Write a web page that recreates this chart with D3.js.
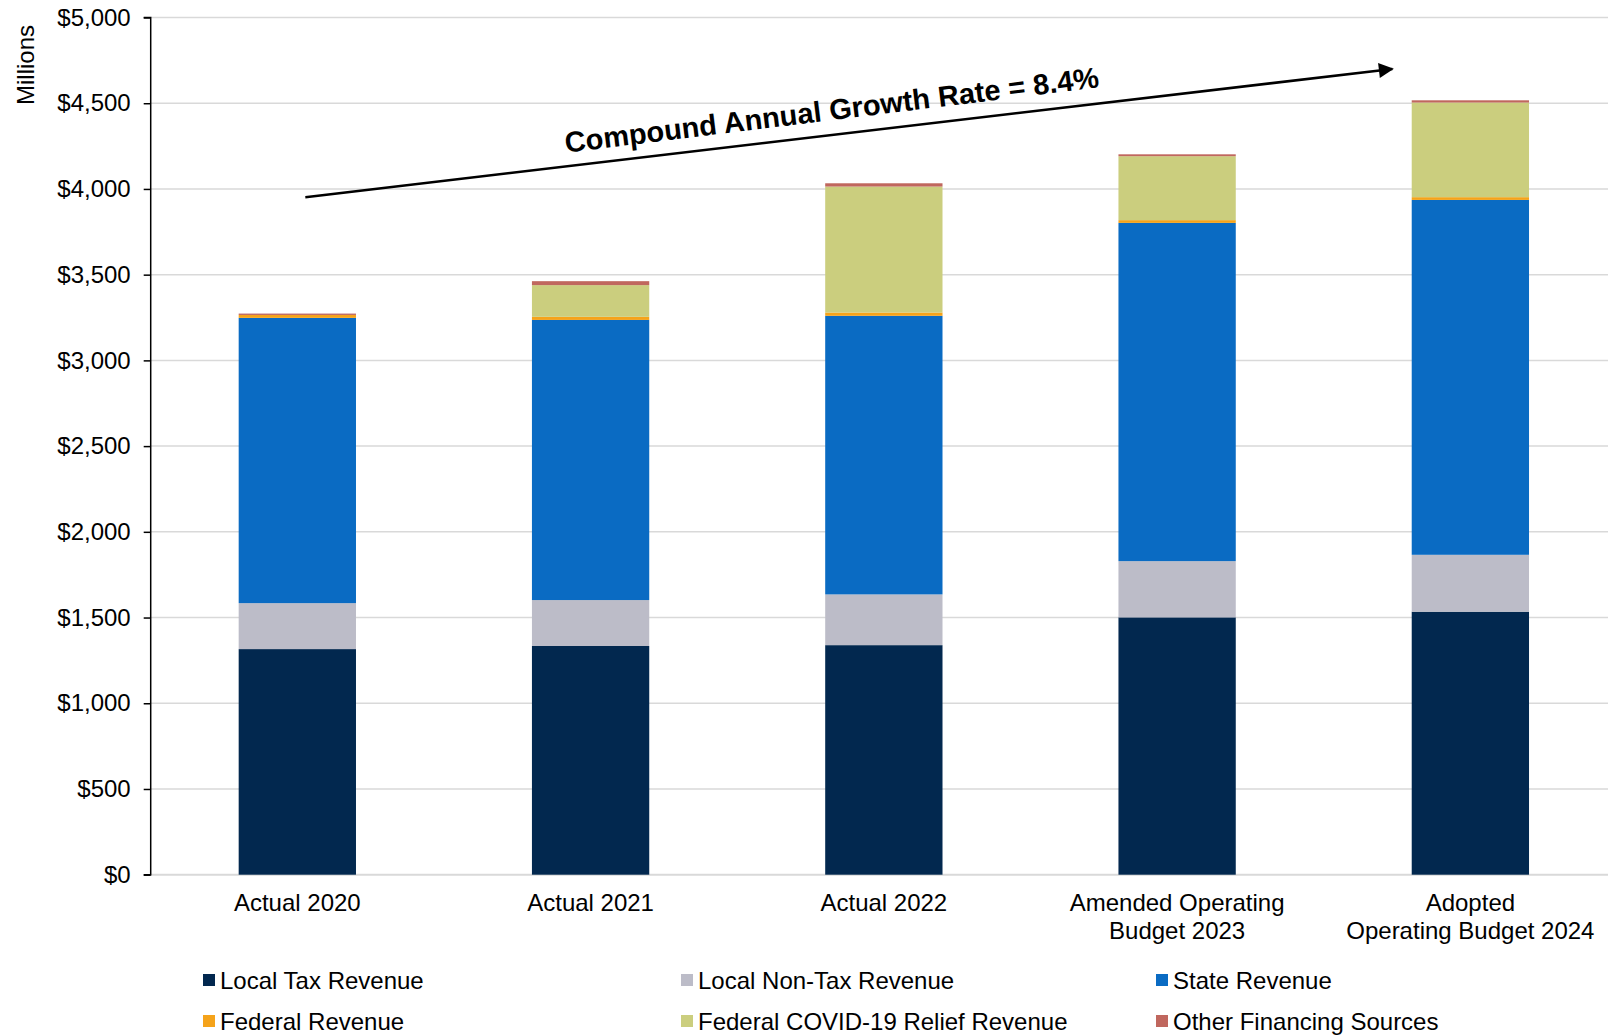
<!DOCTYPE html>
<html>
<head>
<meta charset="utf-8">
<script src="https://cdn.jsdelivr.net/npm/d3@7"></script>
<style>
  body { margin: 0; background: #fff; }
  svg text { font-family: "Liberation Sans", Arial, sans-serif; fill: #000; }
</style>
</head>
<body>
<div id="chart"></div>
<script>
const width = 1608
const height = 1035
// plot area runs a little past the right edge, like the original
const margin = { top: 17.5, right: -9, bottom: 160.3, left: 150.7 }

// data ($ millions)
const categories = ['Actual 2020', 'Actual 2021', 'Actual 2022', 'Amended Operating Budget 2023', 'Adopted Operating Budget 2024']
const categoryLines = [['Actual 2020'], ['Actual 2021'], ['Actual 2022'], ['Amended Operating', 'Budget 2023'], ['Adopted', 'Operating Budget 2024']]
const seriesNames = ['Local Tax Revenue', 'Local Non-Tax Revenue', 'State Revenue', 'Federal Revenue', 'Federal COVID-19 Relief Revenue', 'Other Financing Sources']
const seriesColors = ['#02284f', '#bcbcc8', '#0a6bc3', '#f5a31a', '#cbce7e', '#c0675e']
const localTax = [1316, 1334, 1339, 1501, 1534]
const localNonTax = [268, 268, 296, 328, 332]
const stateRevenue = [1664, 1634, 1625, 1973, 2070]
const federalRevenue = [17, 18, 19, 16, 16]
const covidRelief = [0, 185, 735, 373, 552]
const otherFinancing = [8, 23, 19, 11, 13]
const yTicks = [0, 500, 1000, 1500, 2000, 2500, 3000, 3500, 4000, 4500, 5000]
const annotation = 'Compound Annual Growth Rate = 8.4%'

const seriesValues = [localTax, localNonTax, stateRevenue, federalRevenue, covidRelief, otherFinancing]
const table = categories.map((c, i) => {
    const row = { category: c }
    seriesNames.forEach((s, j) => { row[s] = seriesValues[j][i] })
    return row
})
const stacked = d3.stack().keys(seriesNames)(table)

const svg = d3.select('#chart')
    .append('svg')
    .attr('width', width)
    .attr('height', height)

const xScale = d3.scaleBand()
    .domain(categories)
    .range([margin.left, width - margin.right])
    .paddingInner(0.6)
    .paddingOuter(0.3)

const yScale = d3.scaleLinear()
    .domain([0, 5000])
    .range([height - margin.bottom, margin.top])

// gridlines
svg.append('g')
    .selectAll('line')
    .data(yTicks)
    .enter()
    .append('line')
    .attr('x1', margin.left)
    .attr('x2', width)
    .attr('y1', d => yScale(d))
    .attr('y2', d => yScale(d))
    .attr('stroke', '#d9d9d9')
    .attr('stroke-width', d => d === 0 ? 2 : 1.5)

// bars
svg.append('g')
    .selectAll('g')
    .data(stacked)
    .enter()
    .append('g')
    .attr('fill', (d, i) => seriesColors[i])
    .selectAll('rect')
    .data(d => d)
    .enter()
    .append('rect')
    .attr('x', d => xScale(d.data.category))
    .attr('width', xScale.bandwidth())
    .attr('y', d => yScale(d[1]))
    .attr('height', d => yScale(d[0]) - yScale(d[1]))

// y axis
const yAxis = d3.axisLeft(yScale)
    .tickValues(yTicks)
    .tickSize(7)
    .tickPadding(13)
    .tickFormat(d => '$' + d3.format(',')(d))
const yAxisG = svg.append('g')
    .attr('transform', `translate(${margin.left}, 0)`)
    .call(yAxis)
yAxisG.select('.domain').attr('stroke', '#000').attr('stroke-width', 1.5).attr('d', `M-7,${yScale(5000)}H0V${yScale(0)}H-7`)
yAxisG.selectAll('.tick line').attr('stroke', '#000').attr('stroke-width', 1.5)
yAxisG.selectAll('.tick text')
    .style('font-size', '24px')
    .style('font-family', '"Liberation Sans", Arial, sans-serif')
    .attr('fill', '#000')

svg.append('text')
    .attr('transform', `translate(34, 65) rotate(-90)`)
    .attr('text-anchor', 'middle')
    .style('font-size', '24px')
    .text('Millions')

// x labels
const xLabels = svg.append('g')
    .selectAll('text')
    .data(categories)
    .enter()
    .append('text')
    .attr('x', d => xScale(d) + xScale.bandwidth() / 2)
    .attr('y', 911)
    .attr('text-anchor', 'middle')
    .style('font-size', '24px')
xLabels.selectAll('tspan')
    .data((d, i) => categoryLines[i])
    .enter()
    .append('tspan')
    .attr('x', function () { return this.parentNode.getAttribute('x') })
    .attr('dy', (d, i) => i === 0 ? 0 : 28)
    .text(d => d)

// growth arrow
svg.append('defs').append('marker')
    .attr('id', 'arrowhead')
    .attr('viewBox', '0 0 10 10')
    .attr('refX', 9)
    .attr('refY', 5)
    .attr('markerWidth', 8)
    .attr('markerHeight', 6)
    .attr('markerUnits', 'strokeWidth')
    .attr('orient', 'auto')
    .append('path')
    .attr('d', 'M0,0L10,5L0,10Z')
    .attr('fill', '#000')

const arrowStart = [xScale(categories[0]) + xScale.bandwidth() / 2 + 8, yScale(3952)]
const arrowEnd = [xScale(categories[4]) + xScale.bandwidth() / 2 - 78, yScale(4700)]
svg.append('line')
    .attr('x1', arrowStart[0])
    .attr('y1', arrowStart[1])
    .attr('x2', arrowEnd[0])
    .attr('y2', arrowEnd[1])
    .attr('stroke', '#000')
    .attr('stroke-width', 2.5)
    .attr('marker-end', 'url(#arrowhead)')

svg.append('text')
    .attr('transform', 'translate(833, 120) rotate(-7)')
    .attr('text-anchor', 'middle')
    .style('font-size', '29px')
    .style('font-weight', 'bold')
    .text(annotation)

// legend
const legendCols = [203, 681, 1156]
const legendRows = [980, 1021]
const legend = svg.append('g')
    .selectAll('g')
    .data(seriesNames)
    .enter()
    .append('g')
    .attr('transform', (d, i) => `translate(${legendCols[i % 3]}, ${legendRows[Math.floor(i / 3)]})`)
legend.append('rect')
    .attr('x', 0)
    .attr('y', -6)
    .attr('width', 12)
    .attr('height', 12)
    .attr('fill', (d, i) => seriesColors[i])
legend.append('text')
    .attr('x', 17)
    .attr('y', 8.5)
    .style('font-size', '24px')
    .text(d => d)
</script>
</body>
</html>
